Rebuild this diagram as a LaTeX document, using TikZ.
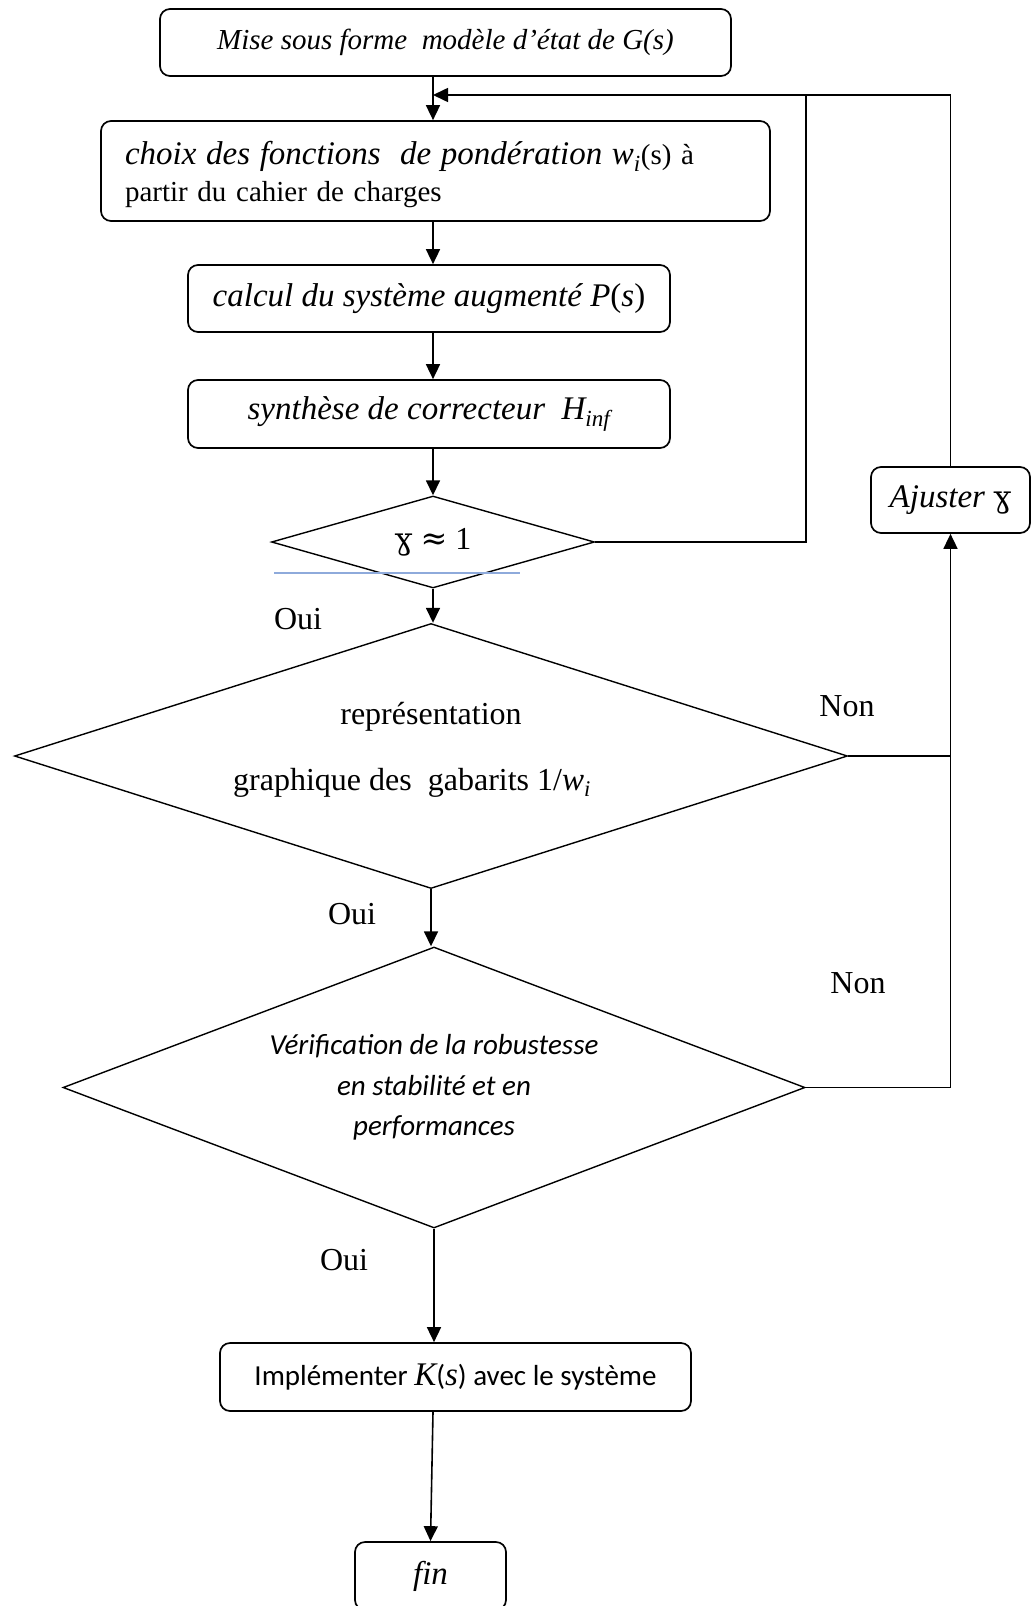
\documentclass[tikz,border=0pt]{standalone}
\usepackage{fontspec}
\setmainfont{Liberation Serif}
\newfontfamily\calibri{Carlito}
\newfontfamily\dejavu{DejaVu Serif}
\usepackage{xcolor}
\usetikzlibrary{positioning,arrows.meta,shapes.geometric}

\definecolor{underblue}{HTML}{8EAADB}
\newcommand{\bigtxt}{\fontsize{33}{40}\selectfont}
\newcommand{\midtxt}{\fontsize{29}{37}\selectfont}
\newcommand{\gam}{{\dejavu\upshape\fontsize{30}{36}\selectfont ɣ}}
\newcommand{\mv}[1]{{\rmfamily\itshape\fontsize{33}{40}\selectfont #1}}

\begin{document}
\begin{tikzpicture}[
    x=1pt, y=-1pt,
    >={Triangle[length=15pt,width=14pt]},
    stepbox/.style={rectangle, rounded corners=10pt, draw, line width=1.7pt, inner sep=0pt, align=center},
    test/.style={diamond, draw, line width=1.4pt, inner sep=0pt, align=center},
    lbl/.style={font=\fontsize{32}{38}\selectfont},
    flow/.style={->, line width=1.6pt},
    link/.style={line width=1.6pt}
]
\useasboundingbox (0,0) rectangle (1032,1606);
\coordinate (col) at (433,0);

% Boxes
\node[stepbox, minimum width=571pt, minimum height=67pt, font=\midtxt\itshape] (model) at (445.5,42.5) {Mise sous forme\ \ modèle d’état de G(s)};
\node[stepbox, minimum width=669pt, minimum height=100pt, text width=621pt, inner xsep=24pt, align=left, font=\midtxt] (poids) at (435.5,171)
    {\rule{0pt}{30pt}{\bigtxt\itshape choix des fonctions\ \ de pondération w\textsubscript{i}}(s) à\\partir du cahier de charges};
\node[stepbox, minimum width=482pt, minimum height=67pt, font=\bigtxt\itshape] (augm) at (429,298.5) {calcul du système augmenté P\textup{(}s\textup{)}};
\node[stepbox, minimum width=482pt, minimum height=68pt, font=\bigtxt\itshape] (synth) at (429,414) {synthèse de correcteur\ \ H\textsubscript{inf}};

% Tests
\node[test, aspect=3.5, minimum width=323pt, minimum height=92pt, font=\fontsize{32}{38}\selectfont] (gtest) at (433,542) {\gam\ {\dejavu ≈} 1};
\node[test, aspect=3.14, minimum width=833pt, minimum height=265pt, font=\fontsize{32}{66}\selectfont] (gabar) at (431,756)
    {représentation\\graphique des\ \ gabarits 1/\mv{w}\textsubscript{\itshape i}\hspace*{38pt}\rule[-20pt]{0pt}{0pt}};
\node[test, aspect=2.64, minimum width=742pt, minimum height=281pt, font=\calibri\itshape\fontsize{29}{40.5}\selectfont] (robust) at (434,1087.5)
    {Vérification de la robustesse\\en stabilité et en\\performances};

% Adjust and end
\node[stepbox, minimum width=159pt, minimum height=66pt, font=\bigtxt] (ajust) at (950.5,500) {\textit{Ajuster} \gam};
\node[stepbox, minimum width=471pt, minimum height=68pt, font=\calibri\fontsize{29}{35}\selectfont] (impl) at (455.5,1377) {Implémenter \mv{K}(\mv{s}) avec le système};
\node[stepbox, minimum width=151pt, minimum height=68pt, font=\bigtxt\itshape] (fin) at (430.5,1576) {fin};

% Labels
\node[lbl] (oui1) at (298,619) {Oui};
\node[lbl] (oui2) at (352,914) {Oui};
\node[lbl] (oui3) at (344,1260) {Oui};
\node[lbl] (non1) at (847,706) {Non};
\node[lbl] (non2) at (858,983) {Non};

% Main flow
\draw[flow] (model.south -| col) -- (poids.north -| col);
\draw[flow] (poids.south -| col) -- (augm.north -| col);
\draw[flow] (augm.south -| col) -- (synth.north -| col);
\draw[flow] (synth.south -| gtest.north) -- (gtest.north);
\draw[flow] (gtest.south) -- (gabar.north -| gtest.south);
\draw[flow] (gabar.south) -- (robust.north -| gabar.south);
\draw[flow] (robust.south) -- (impl.north -| robust.south);
\draw[flow] (impl.south -| col) -- (fin.north);

% Feedback
\coordinate (merge) at (806,95);
\draw[link] (gtest.east) -| (merge);
\draw[flow] (ajust.north) |- (merge) -- (merge -| col);
\draw[link] (gabar.east) -- (gabar.east -| ajust.south);
\draw[flow] (robust.east) -| (ajust.south);

\draw[line width=1.5pt, underblue] (274,573) -- (520,573);
\end{tikzpicture}
\end{document}
